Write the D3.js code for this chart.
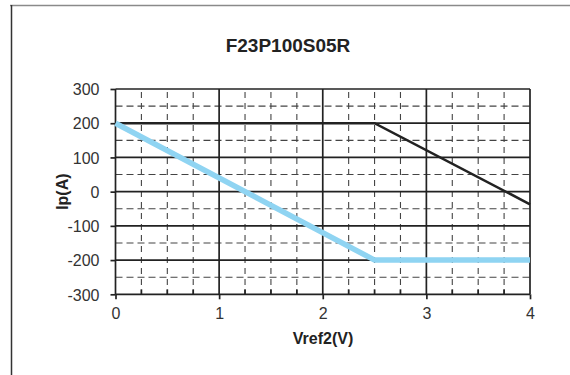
<!DOCTYPE html>
<html>
<head>
<meta charset="utf-8">
<script src="https://cdn.jsdelivr.net/npm/d3@7"></script>
<style>
  body { margin: 0; background: #fff; }
  svg { display: block; font-family: 'Liberation Sans', Arial, sans-serif; }
</style>
</head>
<body>
<div id="chart"></div>
<script>
// data
const title = 'F23P100S05R';
const xTicks = [0, 1, 2, 3, 4];
const yTicks = [-300, -200, -100, 0, 100, 200, 300];
const blueV = [0, 2.5, 4];
const blueI = [200, -200, -200];
const blackV = [0, 2.5, 4];
const blackI = [200, 200, -37];

const width = 570, height = 375;
const svg = d3.select('#chart').append('svg')
  .attr('width', width)
  .attr('height', height);

// frame of the figure (top and left edges only are visible)
svg.append('line')
  .attr('x1', 10).attr('y1', 5.5).attr('x2', 570).attr('y2', 5.5)
  .style('stroke', '#8a8a8a').style('stroke-width', 1.5);
svg.append('line')
  .attr('x1', 11.5).attr('y1', 5).attr('x2', 11.5).attr('y2', 375)
  .style('stroke', '#333').style('stroke-width', 1.5);

svg.append('text')
  .attr('x', 288).attr('y', 52)
  .attr('text-anchor', 'middle')
  .style('font-weight', 'bold')
  .style('font-size', '19px')
  .style('fill', '#222')
  .text(title);

const x = d3.scaleLinear().domain([0, 4]).range([115.5, 530]);
const y = d3.scaleLinear().domain([-300, 300]).range([294.3, 89]);

// plain hyphen for negatives, as in the scan
const fmt = d => String(d);

const grid = svg.append('g').attr('class', 'grid');

// minor dashed lines
grid.selectAll('line.hminor')
  .data(d3.range(-250, 300, 100))
  .enter().append('line')
  .attr('class', 'hminor')
  .attr('x1', x(0)).attr('x2', x(4))
  .attr('y1', d => y(d)).attr('y2', d => y(d))
  .style('stroke', '#444')
  .style('stroke-width', 1.1)
  .style('stroke-dasharray', '7,4');

grid.selectAll('line.vminor')
  .data(d3.range(0, 4, 0.25).filter(d => d % 1 !== 0))
  .enter().append('line')
  .attr('class', 'vminor')
  .attr('x1', d => x(d)).attr('x2', d => x(d))
  .attr('y1', y(300)).attr('y2', y(-300))
  .style('stroke', '#444')
  .style('stroke-width', 1.1)
  .style('stroke-dasharray', '6,5')
  .style('stroke-dashoffset', -3);

// major solid lines
grid.selectAll('line.hmajor')
  .data(yTicks)
  .enter().append('line')
  .attr('class', 'hmajor')
  .attr('x1', x(0)).attr('x2', x(4))
  .attr('y1', d => y(d)).attr('y2', d => y(d))
  .style('stroke', '#222')
  .style('stroke-width', 1.7);

grid.selectAll('line.vmajor')
  .data(xTicks)
  .enter().append('line')
  .attr('class', 'vmajor')
  .attr('x1', d => x(d)).attr('x2', d => x(d))
  .attr('y1', y(300)).attr('y2', y(-300))
  .style('stroke', '#222')
  .style('stroke-width', 1.7);

// small ticks sitting on the bottom axis
grid.selectAll('line.btick')
  .data(d3.range(0.25, 4, 0.25).filter(d => d % 1 !== 0))
  .enter().append('line')
  .attr('class', 'btick')
  .attr('x1', d => x(d)).attr('x2', d => x(d))
  .attr('y1', y(-300) - 5).attr('y2', y(-300))
  .style('stroke', '#222')
  .style('stroke-width', 1.7);

// axes
const xAxis = svg.append('g')
  .attr('transform', `translate(0,${y(-300)})`)
  .call(d3.axisBottom(x).tickValues(xTicks).tickSize(5).tickPadding(8).tickFormat(fmt));
const yAxis = svg.append('g')
  .attr('transform', `translate(${x(0)},0)`)
  .call(d3.axisLeft(y).tickValues(yTicks).tickSize(5).tickPadding(11).tickFormat(fmt));

[xAxis, yAxis].forEach(a => {
  a.select('.domain').remove();
  a.selectAll('.tick line').style('stroke', '#222').style('stroke-width', 1.7);
  a.selectAll('.tick text')
    .style('font-family', "'Liberation Sans', Arial, sans-serif")
    .style('font-size', '16px')
    .style('fill', '#333');
});
yAxis.selectAll('.tick text').attr('dy', '0.36em');

// axis titles
svg.append('text')
  .attr('x', 323).attr('y', 344)
  .attr('text-anchor', 'middle')
  .style('font-weight', 'bold')
  .style('font-size', '16px')
  .style('fill', '#222')
  .text('Vref2(V)');

svg.append('text')
  .attr('transform', `translate(68,${y(0)}) rotate(-90)`)
  .attr('text-anchor', 'middle')
  .style('font-weight', 'bold')
  .style('font-size', '16px')
  .style('fill', '#222')
  .text('Ip(A)');

// curves
const line = d3.line().x(d => x(d[0])).y(d => y(d[1]));

svg.append('path')
  .datum(d3.zip(blackV, blackI))
  .attr('d', line)
  .style('fill', 'none')
  .style('stroke', '#222')
  .style('stroke-width', 2.6);

svg.append('path')
  .datum(d3.zip(blueV, blueI))
  .attr('d', line)
  .style('fill', 'none')
  .style('stroke', '#8fd4f2')
  .style('stroke-width', 5.5);
</script>
</body>
</html>
